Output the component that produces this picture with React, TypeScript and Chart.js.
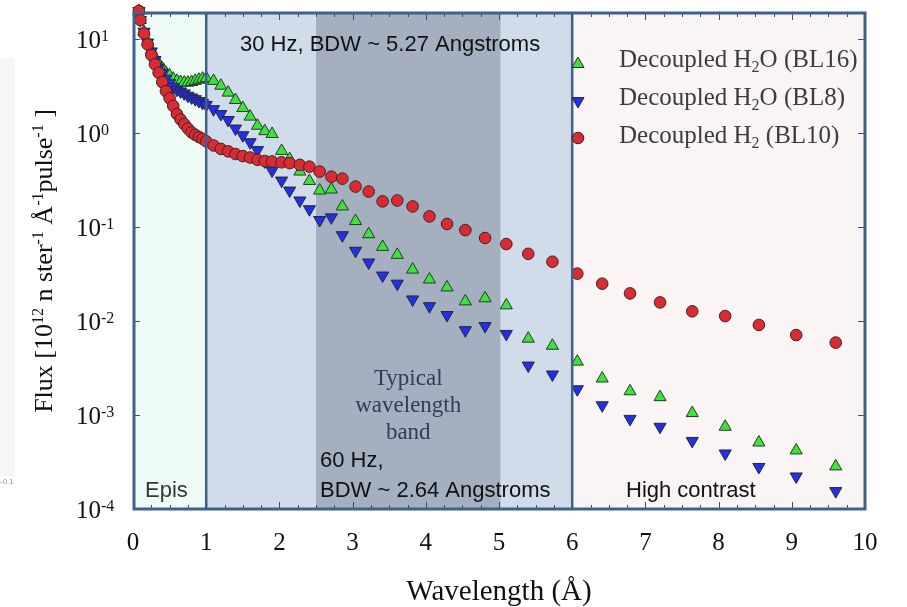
import React, { useEffect, useRef } from 'react';
import { Chart, registerables } from 'chart.js';

Chart.register(...registerables);

const SERIF = '"Liberation Serif", "Times New Roman", serif';
const SANS = '"Liberation Sans", Arial, sans-serif';

// Wavelength grids (Å)
const wavelengthDense = [0.08, 0.1, 0.15, 0.2, 0.25, 0.3, 0.35, 0.4, 0.45, 0.5, 0.55, 0.6, 0.65, 0.7, 0.75, 0.8, 0.85, 0.9, 0.95, 1.0, 1.1, 1.2, 1.3, 1.4, 1.5, 1.6, 1.7, 1.8, 1.9];
const wavelengthSparse = [2.03, 2.14, 2.28, 2.41, 2.55, 2.71, 2.86, 3.04, 3.22, 3.41, 3.61, 3.82, 4.05, 4.29, 4.54, 4.81, 5.1, 5.4, 5.73, 6.07, 6.41, 6.79, 7.2, 7.64, 8.09, 8.55, 9.06, 9.6];

// Decoupled H2 (BL10) - circles
const h2BL10Dense = [20, 16, 11.5, 8.8, 6.8, 5.4, 4.4, 3.5, 2.8, 2.35, 1.95, 1.6, 1.4, 1.25, 1.12, 1.02, 0.96, 0.91, 0.87, 0.82, 0.74, 0.68, 0.64, 0.6, 0.57, 0.55, 0.52, 0.505, 0.5];
const h2BL10Sparse = [0.49, 0.48, 0.46, 0.44, 0.39, 0.344, 0.328, 0.27, 0.239, 0.188, 0.192, 0.166, 0.13, 0.108, 0.093, 0.0766, 0.066, 0.052, 0.0428, 0.032, 0.025, 0.0197, 0.0158, 0.0127, 0.0113, 0.0091, 0.0071, 0.0059];

// Decoupled H2O (BL8) - down triangles
const h2oBL8Dense = [20, 16, 12, 9.2, 7.4, 6.0, 5.0, 4.4, 3.8, 3.4, 3.1, 2.9, 2.78, 2.65, 2.5, 2.4, 2.3, 2.2, 2.1, 2.0, 1.8, 1.6, 1.38, 1.12, 0.95, 0.8, 0.66, 0.5, 0.4];
const h2oBL8Sparse = [0.313, 0.245, 0.192, 0.155, 0.119, 0.127, 0.082, 0.056, 0.042, 0.0305, 0.025, 0.017, 0.0144, 0.0116, 0.008, 0.00885, 0.0073, 0.00336, 0.0027, 0.00188, 0.00127, 0.00091, 0.00075, 0.00053, 0.00039, 0.00028, 0.000222, 0.000155];

// Decoupled H2O (BL16) - up triangles
const h2oBL16Dense = [20, 16, 12, 9.4, 7.6, 6.4, 5.5, 4.9, 4.4, 4.1, 3.8, 3.6, 3.5, 3.45, 3.45, 3.5, 3.6, 3.7, 3.8, 3.85, 3.6, 3.2, 2.7, 2.25, 1.85, 1.5, 1.2, 1.05, 0.98];
const h2oBL16Sparse = [0.647, 0.53, 0.39, 0.31, 0.245, 0.251, 0.166, 0.116, 0.084, 0.0616, 0.0507, 0.0353, 0.0277, 0.0228, 0.0162, 0.0175, 0.0147, 0.0065, 0.00546, 0.0037, 0.00245, 0.00179, 0.00155, 0.00105, 0.00075, 0.00051, 0.00042, 0.000284];

// Axes
const xTicks = [0, 1, 2, 3, 4, 5, 6, 7, 8, 9, 10];
const yTickExponents = [1, 0, -1, -2, -3, -4];

// Shaded regions
const regionEpis = [0, 1];
const regionBand30Hz = [1, 6];
const regionTypical = [2.5, 5.02];
const regionHighContrast = [6, 10];
const dividerLines = [1, 6];

const COLORS = {
  red: '#dc2a33',
  blue: '#2330e6',
  green: '#3ee23c',
  frame: '#41618b',
};

const CIRCLE_R = 5.8;
const TRI_R = 7;

const wavelengthAll = [...wavelengthDense, ...wavelengthSparse];
const toPoints = (ys: number[]) => ys.map((y, i) => ({ x: wavelengthAll[i], y }));

type Seg = { t: string; f: string; dy?: number };

function drawSegs(ctx: CanvasRenderingContext2D, segs: Seg[], x: number, y: number, align: 'left' | 'center') {
  ctx.textAlign = 'left';
  ctx.textBaseline = 'alphabetic';
  const widths = segs.map((s) => {
    ctx.font = s.f;
    return ctx.measureText(s.t).width;
  });
  const total = widths.reduce((a, b) => a + b, 0);
  let cx = align === 'center' ? x - total / 2 : x;
  segs.forEach((s, i) => {
    ctx.font = s.f;
    ctx.fillText(s.t, cx, y + (s.dy || 0));
    cx += widths[i];
  });
}

function drawMarker(ctx: CanvasRenderingContext2D, kind: string, x: number, y: number, fill: string) {
  ctx.save();
  ctx.fillStyle = fill;
  ctx.strokeStyle = '#2b2b2b';
  ctx.lineWidth = 1;
  ctx.beginPath();
  if (kind === 'circle') {
    ctx.arc(x, y, CIRCLE_R, 0, Math.PI * 2);
  } else {
    const r = TRI_R;
    const rot = kind === 'down' ? Math.PI : 0;
    for (let k = 0; k < 3; k++) {
      const a = rot + (k * 2 * Math.PI) / 3;
      const px = x + Math.sin(a) * r;
      const py = y - Math.cos(a) * r;
      if (k === 0) ctx.moveTo(px, py);
      else ctx.lineTo(px, py);
    }
    ctx.closePath();
  }
  ctx.fill();
  ctx.stroke();
  ctx.restore();
}

const decorPlugin = {
  id: 'decor',
  beforeDraw(chart: any) {
    const { ctx } = chart;
    ctx.save();
    ctx.fillStyle = '#ffffff';
    ctx.fillRect(0, 0, chart.width, chart.height);
    ctx.fillStyle = '#f7f7f9';
    ctx.fillRect(0, 58, 15, 418);
    ctx.fillStyle = '#9a9a9a';
    ctx.font = `8px ${SANS}`;
    ctx.textAlign = 'left';
    ctx.fillText('-0.1', 0, 484);
    ctx.restore();
  },
  beforeDatasetsDraw(chart: any) {
    const { ctx, chartArea: a, scales } = chart;
    const px = (v: number) => scales.x.getPixelForValue(v);
    const h = a.bottom - a.top;
    ctx.save();
    const fills: [number[], string][] = [
      [regionEpis, '#eefcf5'],
      [regionBand30Hz, '#d1dcea'],
      [regionTypical, '#a4afc0'],
      [regionHighContrast, '#faf4f4'],
    ];
    fills.forEach(([r, c]) => {
      ctx.fillStyle = c;
      ctx.fillRect(px(r[0]), a.top, px(r[1]) - px(r[0]), h);
    });
    ctx.restore();
  },
  afterDatasetsDraw(chart: any) {
    const { ctx, chartArea: a, scales } = chart;
    const xs = scales.x;
    const ys = scales.y;
    ctx.save();

    // divider lines
    ctx.strokeStyle = COLORS.frame;
    ctx.lineWidth = 2.5;
    dividerLines.forEach((v) => {
      const p = xs.getPixelForValue(v);
      ctx.beginPath();
      ctx.moveTo(p, a.top);
      ctx.lineTo(p, a.bottom);
      ctx.stroke();
    });

    // ticks
    ctx.lineWidth = 1;
    ctx.strokeStyle = '#3a4f6e';
    for (let i = 0; i <= 40; i++) {
      const v = i * 0.25;
      const p = Math.round(xs.getPixelForValue(v)) + 0.5;
      const len = i % 4 === 0 ? 7 : 4;
      ctx.beginPath();
      ctx.moveTo(p, a.bottom);
      ctx.lineTo(p, a.bottom - len);
      ctx.moveTo(p, a.top);
      ctx.lineTo(p, a.top + len);
      ctx.stroke();
    }
    yTickExponents.forEach((e) => {
      const p = Math.round(ys.getPixelForValue(Math.pow(10, e))) + 0.5;
      ctx.beginPath();
      ctx.moveTo(a.left, p);
      ctx.lineTo(a.left + 7, p);
      ctx.moveTo(a.right, p);
      ctx.lineTo(a.right - 7, p);
      ctx.stroke();
    });

    // frame
    ctx.strokeStyle = COLORS.frame;
    ctx.lineWidth = 3;
    ctx.strokeRect(a.left + 1, a.top, a.right - a.left - 1, a.bottom - a.top);

    // annotations
    ctx.fillStyle = '#111111';
    drawSegs(ctx, [{ t: '30 Hz, BDW ~ 5.27 Angstroms', f: `22px ${SANS}` }], 240, 51, 'left');
    drawSegs(ctx, [{ t: '60 Hz,', f: `22px ${SANS}` }], 320, 467, 'left');
    drawSegs(ctx, [{ t: 'BDW ~ 2.64 Angstroms', f: `22px ${SANS}` }], 320, 497, 'left');
    drawSegs(ctx, [{ t: 'High contrast', f: `22px ${SANS}` }], 626, 497, 'left');
    ctx.fillStyle = '#2d3b36';
    drawSegs(ctx, [{ t: 'Epis', f: `22px ${SANS}` }], 145, 497, 'left');
    ctx.fillStyle = '#333d50';
    const bandCx = (xs.getPixelForValue(regionTypical[0]) + xs.getPixelForValue(regionTypical[1])) / 2;
    drawSegs(ctx, [{ t: 'Typical', f: `23px ${SERIF}` }], bandCx, 385, 'center');
    drawSegs(ctx, [{ t: 'wavelength', f: `23px ${SERIF}` }], bandCx, 412, 'center');
    drawSegs(ctx, [{ t: 'band', f: `23px ${SERIF}` }], bandCx, 439, 'center');

    // legend
    const lf = `25px ${SERIF}`;
    const sf = `16px ${SERIF}`;
    const legendRows: { kind: string; color: string; segs: Seg[]; y: number }[] = [
      { kind: 'up', color: COLORS.green, y: 64, segs: [{ t: 'Decoupled H', f: lf }, { t: '2', f: sf, dy: 5 }, { t: 'O (BL16)', f: lf }] },
      { kind: 'down', color: COLORS.blue, y: 101, segs: [{ t: 'Decoupled H', f: lf }, { t: '2', f: sf, dy: 5 }, { t: 'O (BL8)', f: lf }] },
      { kind: 'circle', color: COLORS.red, y: 138, segs: [{ t: 'Decoupled H', f: lf }, { t: '2', f: sf, dy: 5 }, { t: ' (BL10)', f: lf }] },
    ];
    legendRows.forEach((r, i) => {
      drawMarker(ctx, r.kind, 578, r.y, r.color);
      ctx.fillStyle = '#3c3c3c';
      drawSegs(ctx, r.segs, 619, 67 + i * 38, 'left');
    });

    // tick labels
    ctx.fillStyle = '#111111';
    xTicks.forEach((v) => {
      drawSegs(ctx, [{ t: String(v), f: `25px ${SERIF}` }], xs.getPixelForValue(v), 550, 'center');
    });
    yTickExponents.forEach((e) => {
      const p = ys.getPixelForValue(Math.pow(10, e));
      drawSegs(ctx, [{ t: '10', f: `25px ${SERIF}` }, { t: String(e), f: `16px ${SERIF}`, dy: -7 }], 76, p + 9, 'left');
    });

    // axis titles
    drawSegs(ctx, [{ t: 'Wavelength (Å)', f: `29px ${SERIF}` }], (a.left + a.right) / 2, 600, 'center');
    ctx.save();
    ctx.translate(52, 261);
    ctx.rotate(-Math.PI / 2);
    const tf = `26px ${SERIF}`;
    const tsf = `16px ${SERIF}`;
    drawSegs(
      ctx,
      [
        { t: 'Flux [10', f: tf },
        { t: '12', f: tsf, dy: -9 },
        { t: ' n ster', f: tf },
        { t: '-1', f: tsf, dy: -9 },
        { t: ' Å', f: tf },
        { t: '-1', f: tsf, dy: -9 },
        { t: 'pulse', f: tf },
        { t: '-1', f: tsf, dy: -9 },
        { t: ' ]', f: tf },
      ],
      0,
      0,
      'center'
    );
    ctx.restore();

    ctx.restore();
  },
};

export default function App() {
  const ref = useRef<HTMLCanvasElement | null>(null);
  useEffect(() => {
    if (!ref.current) return;
    const chart = new Chart(ref.current, {
      type: 'scatter',
      data: {
        datasets: [
          {
            label: 'Decoupled H2 (BL10)',
            data: toPoints([...h2BL10Dense, ...h2BL10Sparse]),
            pointStyle: 'circle',
            pointRadius: CIRCLE_R,
            backgroundColor: COLORS.red,
            borderColor: '#3a2626',
            borderWidth: 1,
            clip: false,
          } as any,
          {
            label: 'Decoupled H2O (BL8)',
            data: toPoints([...h2oBL8Dense, ...h2oBL8Sparse]),
            pointStyle: 'triangle',
            rotation: 180,
            pointRadius: TRI_R,
            backgroundColor: COLORS.blue,
            borderColor: '#26263a',
            borderWidth: 1,
            clip: false,
          } as any,
          {
            label: 'Decoupled H2O (BL16)',
            data: toPoints([...h2oBL16Dense, ...h2oBL16Sparse]),
            pointStyle: 'triangle',
            pointRadius: TRI_R,
            backgroundColor: COLORS.green,
            borderColor: '#263a26',
            borderWidth: 1,
            clip: false,
          } as any,
        ],
      },
      options: {
        animation: false,
        responsive: false,
        devicePixelRatio: 1,
        layout: { padding: { top: 13, right: 42, left: 0, bottom: 0 } },
        plugins: { legend: { display: false }, tooltip: { enabled: false } },
        scales: {
          x: {
            type: 'linear',
            min: 0,
            max: 10,
            grid: { display: false },
            border: { display: false },
            ticks: { display: false },
            afterFit: (s: any) => {
              s.height = 98;
            },
          },
          y: {
            type: 'logarithmic',
            min: 1e-4,
            max: 19,
            grid: { display: false },
            border: { display: false },
            ticks: { display: false },
            afterFit: (s: any) => {
              s.width = 133;
            },
          },
        },
      } as any,
      plugins: [decorPlugin],
    });
    return () => chart.destroy();
  }, []);
  return (
    <div style={{ position: 'fixed', left: 0, top: 0, width: 907, height: 607, background: '#fff' }}>
      <canvas ref={ref} width={907} height={607} style={{ display: 'block' }} />
    </div>
  );
}
